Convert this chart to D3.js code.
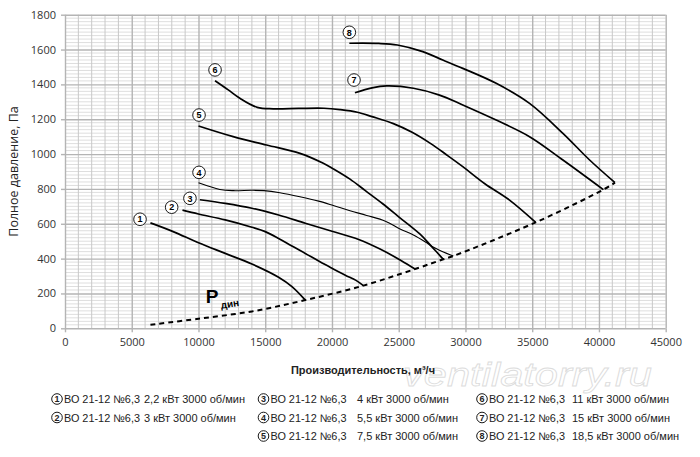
<!DOCTYPE html>
<html>
<head>
<meta charset="utf-8">
<script src="https://cdn.jsdelivr.net/npm/d3@7"></script>
<style>
  body { margin: 0; background: #fff; }
  svg { display: block; }
</style>
</head>
<body>
<script>
// fan curves: [flow m3/h, total pressure Pa]
var curve1 = [[6400,605],[8100,555],[10000,491],[12000,430],[14000,369],[16000,293],[17000,239],[18000,162]];
var curve2 = [[8800,678],[10000,656],[12000,622],[14000,580],[15000,555],[16000,516],[17000,472],[18000,430],[19100,382],[20000,345],[21000,305],[21800,275],[22350,245]];
var curve3 = [[10100,738],[12000,717],[14000,689],[16000,650],[18000,603],[20000,557],[22000,510],[23600,455],[25200,388],[26220,340]];
var curve4 = [[10000,835],[11600,797],[12600,790],[14000,792],[14900,790],[16100,778],[17600,755],[19000,730],[20100,705],[21350,675],[22600,648],[24000,615],[25100,570],[26100,535],[27000,495],[27500,470],[28300,440],[29090,415]];
var curve5 = [[10000,1161],[12600,1100],[15100,1052],[17600,1004],[19350,947],[20100,915],[21350,856],[22500,790],[23800,715],[25000,640],[26600,540],[27470,469],[28340,396]];
var curve6 = [[11240,1421],[12200,1370],[13100,1320],[14400,1268],[15600,1260],[17500,1262],[19400,1263],[20600,1255],[21900,1240],[23000,1215],[24600,1175],[26000,1125],[27400,1060],[28600,995],[29800,928],[31450,830],[33300,736],[35260,608]];
var curve7 = [[21720,1352],[23000,1380],[24100,1391],[26100,1378],[28000,1340],[29800,1282],[32300,1195],[34800,1100],[37300,966],[40330,796]];
var curve8 = [[21300,1636],[23500,1635],[24900,1626],[26800,1588],[28300,1540],[29800,1492],[32300,1406],[34800,1291],[37300,1119],[39300,966],[41200,836]];
var curves = [curve1, curve2, curve3, curve4, curve5, curve6, curve7, curve8];

// dynamic pressure line through the curve ends
var pdyn = [[6400,20],[10000,55],[14000,97],[18000,162],[22350,245],[26220,340],[28340,396],[29090,415],[35260,608],[40330,796],[41200,836]];

// where the numbered circles sit
var labelAt = [[5620,626],[7990,695],[9360,746],[10040,895],[10040,1224],[11240,1483],[21650,1425],[21300,1699]];

var model = 'ВО 21-12 №6,3';
var power = ['2,2 кВт 3000 об/мин', '3 кВт 3000 об/мин', '4 кВт 3000 об/мин', '5,5 кВт 3000 об/мин',
             '7,5 кВт 3000 об/мин', '11 кВт 3000 об/мин', '15 кВт 3000 об/мин', '18,5 кВт 3000 об/мин'];

var xTicks = [0, 5000, 10000, 15000, 20000, 25000, 30000, 35000, 40000, 45000];
var yTicks = [0, 200, 400, 600, 800, 1000, 1200, 1400, 1600, 1800];

var W = 700, H = 457;
var x = d3.scaleLinear().domain([0, 45000]).range([65, 665.7]);
var y = d3.scaleLinear().domain([0, 1800]).range([328.3, 14.7]);

var svg = d3.select('body').append('svg')
   .attr('width', W)
   .attr('height', H)
   .style('font-family', 'Liberation Sans, Arial, sans-serif');

// watermark first so everything sits over it
svg.append('text')
   .attr('x', 403).attr('y', 386)
   .attr('textLength', 249).attr('lengthAdjust', 'spacingAndGlyphs')
   .style('font-size', '34px').style('font-style', 'italic')
   .attr('fill', '#fff').attr('stroke', '#dcdcdc').attr('stroke-width', 0.8)
   .text('ventilatorry.ru');

var grid = svg.append('g');
// minor horizontal every 20 Pa
grid.selectAll('line.hm').data(d3.range(0, 1801, 20).filter(function(v) { return v % 200; }))
  .enter().append('line')
   .attr('x1', x(0)).attr('x2', x(45000))
   .attr('y1', y).attr('y2', y)
   .attr('stroke', '#dedede').attr('stroke-width', 1);
// minor vertical every 1000
grid.selectAll('line.vm').data(d3.range(0, 45001, 1000).filter(function(v) { return v % 5000; }))
  .enter().append('line')
   .attr('x1', x).attr('x2', x)
   .attr('y1', y(0)).attr('y2', y(1800))
   .attr('stroke', '#c8c8c8').attr('stroke-width', 1);

// major grid lines + axes with ticks
var xAxis = d3.axisBottom(x).tickValues(xTicks).tickFormat(d3.format('d'))
   .tickSize(-(y(0) - y(1800))).tickSizeOuter(0).tickPadding(10);
var yAxis = d3.axisLeft(y).tickValues(yTicks).tickFormat(d3.format('d'))
   .tickSize(-(x(45000) - x(0))).tickSizeOuter(0).tickPadding(9);

var gx = svg.append('g').attr('transform', 'translate(0,' + y(0) + ')').call(xAxis);
var gy = svg.append('g').attr('transform', 'translate(' + x(0) + ',0)').call(yAxis);
[gx, gy].forEach(function(g) {
  g.select('.domain').remove();
  g.selectAll('.tick line').attr('stroke', '#b4b4b4').attr('stroke-width', 1.4);
  g.selectAll('.tick text')
     .attr('fill', '#333')
     .style('font-family', 'Open Sans, sans-serif')
     .style('font-size', '11px');
});
// small outward ticks
gx.selectAll('.tick').append('line').attr('y1', 0).attr('y2', 4).attr('stroke', '#b4b4b4').attr('stroke-width', 1.4);
gy.selectAll('.tick').append('line').attr('x1', 0).attr('x2', -4).attr('stroke', '#b4b4b4').attr('stroke-width', 1.4);

// the curves
var line = d3.line()
   .x(function(d) { return x(d[0]); })
   .y(function(d) { return y(d[1]); })
   .curve(d3.curveCatmullRom.alpha(0.5));

svg.append('path')
   .datum(pdyn)
   .attr('d', line)
   .attr('fill', 'none')
   .attr('stroke', '#000')
   .attr('stroke-width', 2)
   .attr('stroke-dasharray', '5,4');

svg.selectAll('path.curve').data(curves)
  .enter().append('path')
   .attr('class', 'curve')
   .attr('d', line)
   .attr('fill', 'none')
   .attr('stroke', '#000')
   .attr('stroke-width', function(d, i) { return i == 3 ? 1.1 : 1.7; });

// numbered circles
function badge(g, cx, cy, r, n, fs) {
  g.append('circle').attr('cx', cx).attr('cy', cy).attr('r', r)
     .attr('fill', '#fff').attr('stroke', '#000').attr('stroke-width', 0.9);
  g.append('text').attr('x', cx).attr('y', cy + fs * 0.36)
     .attr('text-anchor', 'middle')
     .style('font-size', fs + 'px').style('font-weight', 'bold')
     .text(n);
}
var badges = svg.append('g');
labelAt.forEach(function(d, i) {
  badge(badges, x(d[0]), y(d[1]), 6.3, i + 1, 9);
});

// P дин
svg.append('text')
   .attr('x', x(10550)).attr('y', y(145))
   .style('font-size', '19px').style('font-weight', 'bold')
   .text('P');
svg.append('text')
   .attr('transform', 'translate(' + x(11700) + ',' + y(112) + ') rotate(-9)')
   .style('font-size', '10px').style('font-weight', 'bold')
   .text('дин');

// axis titles
svg.append('text')
   .attr('transform', 'translate(18,' + ((y(0) + y(1800)) / 2) + ') rotate(-90)')
   .attr('text-anchor', 'middle')
   .style('font-family', 'Open Sans, sans-serif')
   .style('font-size', '12.5px')
   .attr('fill', '#222')
   .text('Полное давление, Па');

svg.append('text')
   .attr('x', 363).attr('y', 374)
   .attr('text-anchor', 'middle')
   .attr('textLength', 144).attr('lengthAdjust', 'spacingAndGlyphs')
   .style('font-size', '11px').style('font-weight', 'bold')
   .attr('fill', '#222')
   .text('Производительность, м³/ч');

// legend: three columns
var colCircle = [57, 263.5, 482], colPower = [144, 357, 572];
var rowY = [399, 417.5, 436];
var slot = [[0,0],[0,1],[1,0],[1,1],[1,2],[2,0],[2,1],[2,2]];
var lg = svg.append('g').attr('fill', '#222');
power.forEach(function(p, i) {
  var c = slot[i][0], r = rowY[slot[i][1]];
  badge(lg, colCircle[c], r, 5.3, i + 1, 9);
  lg.append('text').attr('x', colCircle[c] + 7).attr('y', r + 4)
     .attr('textLength', 76).attr('lengthAdjust', 'spacingAndGlyphs')
     .style('font-size', '11px').text(model);
  lg.append('text').attr('x', colPower[c]).attr('y', r + 4)
     .style('font-size', '11px').text(p);
});
</script>
</body>
</html>
